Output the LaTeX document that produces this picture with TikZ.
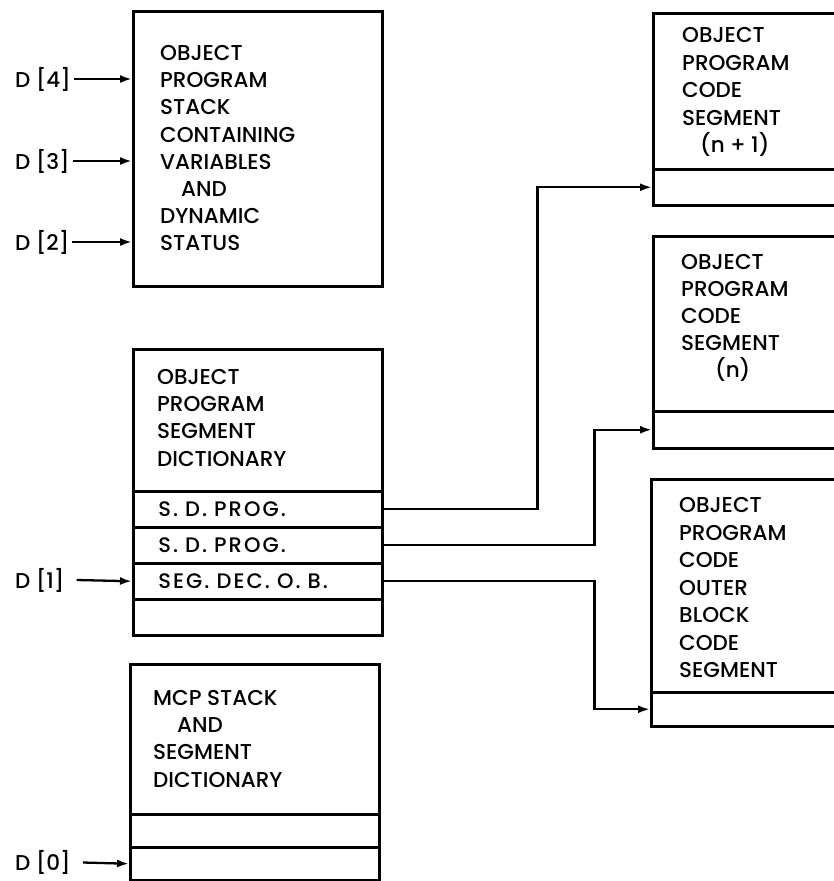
\documentclass[tikz,border=0pt]{standalone}
\usepackage{fontspec}
\setmainfont{Poppins}[UprightFont={* Medium}]
\newfontfamily\rowfont{Poppins}[UprightFont={* Medium}, LetterSpace=10]
\usetikzlibrary{arrows.meta,calc}

\tikzset{
  box/.style={draw, line width=2.5pt, inner sep=0pt, anchor=north west},
  lbl/.style={font=\fontsize{21.5}{27}\selectfont, anchor=base west, inner sep=0pt},
  dlbl/.style={lbl, anchor=west},
  row/.style={box, minimum width=249pt, minimum height=36pt, text width=199pt,
    inner xsep=25pt, align=left, font=\rowfont\fontsize{21}{22}\selectfont},
  link/.style={line width=2.3pt, -{Latex[length=12pt,width=8pt]}},
}

\begin{document}
\begin{tikzpicture}[x=1pt, y=-1pt]
\useasboundingbox (0,0) rectangle (834,881);

% object program stack
\node[box, minimum width=249pt, minimum height=275pt] (stack) at (132,10) {};
\foreach \t [count=\i from 0] in {OBJECT,PROGRAM,STACK,CONTAINING,VARIABLES,\hspace*{21pt}AND,DYNAMIC,STATUS}
  \node[lbl] (stk-\i) at (160,60.5+27.2*\i) {\t};
\node[dlbl] (d4) at (15,79) {D [4]};
\node[dlbl] (d3) at (15,161) {D [3]};
\node[dlbl] (d2) at (15,242) {D [2]};
\draw[link] ($(d4.east)+(3,0)$) -- (stack.west |- d4);
\draw[link] ($(d3.east)+(3,0)$) -- (stack.west |- d3);
\draw[link] ($(d2.east)+(3,0)$) -- (stack.west |- d2);

% segment dictionary
\node[box, minimum width=249pt, minimum height=286pt] (dict) at (132,348) {};
\foreach \t [count=\i from 0] in {OBJECT,PROGRAM,SEGMENT,DICTIONARY}
  \node[lbl] (dic-\i) at (157,384.5+27.2*\i) {\t};
\node[row] (sdp1) at (132,490) {S. D. PROG.};
\node[row] (sdp2) at (132,526) {S. D. PROG.};
\node[row] (segdec) at (132,562) {SEG. DEC. O. B.};
\node[row] (dictend) at (132,598) {};
\node[dlbl] (d1) at (15,580) {D [1]};
\draw[link] ($(d1.east)+(12,0)$) -- (segdec.west);

% mcp stack
\node[box, minimum width=249pt, minimum height=216pt] (mcp) at (129,663) {};
\foreach \t [count=\i from 0] in {MCP STACK,\hspace*{24pt}AND,SEGMENT,DICTIONARY}
  \node[lbl] (mcp-\i) at (153,705.5+27.2*\i) {\t};
\node[row, minimum height=33pt] (mcpa) at (129,813) {};
\node[row, minimum height=33pt] (mcpb) at (129,846) {};
\node[dlbl] (d0) at (15,862.5) {D [0]};
\draw[link] ($(d0.east)+(12,0)$) -- (mcpb.west);

% code segments
\node[box, minimum width=193pt, minimum height=192pt] (seg1) at (652,12) {};
\foreach \t [count=\i from 0] in {OBJECT,PROGRAM,CODE,SEGMENT,\hspace*{18pt}(n + 1)}
  \node[lbl] (sg1-\i) at (682,42.5+27.5*\i) {\t};
\node[box, minimum width=193pt, minimum height=36pt] (slot1) at (652,168) {};

\node[box, minimum width=193pt, minimum height=212pt] (seg2) at (652,235) {};
\foreach \t [count=\i from 0] in {OBJECT,PROGRAM,CODE,SEGMENT,\hspace*{34pt}(n)}
  \node[lbl] (sg2-\i) at (681,269+27*\i) {\t};
\node[box, minimum width=193pt, minimum height=37pt] (slot2) at (652,410) {};

\node[box, minimum width=195pt, minimum height=247pt] (seg3) at (650,478) {};
\foreach \t [count=\i from 0] in {OBJECT,PROGRAM,CODE,OUTER,BLOCK,CODE,SEGMENT}
  \node[lbl] (sg3-\i) at (679,512.5+27.5*\i) {\t};
\node[box, minimum width=195pt, minimum height=34pt] (slot3) at (650,691) {};

% links to code segments
\draw[link] (sdp1.east) -- ++(154,0) |- (slot1.west);
\draw[link] (sdp2.east) -- ++(211,0) |- (slot2.west);
\draw[link] (segdec.east) -- ++(211,0) |- (slot3.west);
\end{tikzpicture}
\end{document}
